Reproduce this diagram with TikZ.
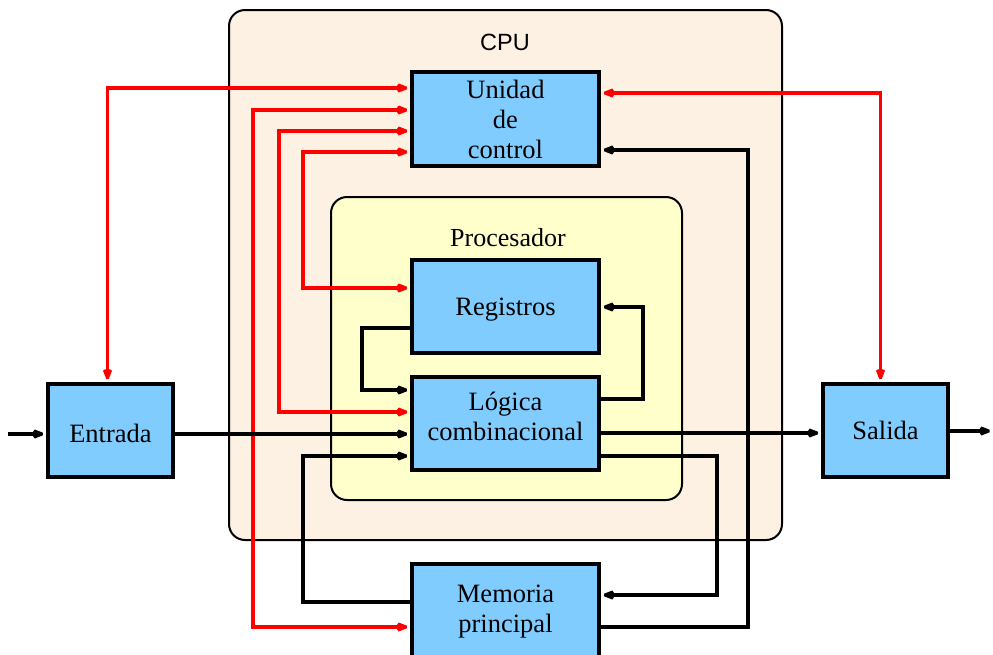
\documentclass[tikz,border=0pt]{standalone}
\usepackage{fontspec}
\setmainfont{Liberation Serif}
\newfontfamily\labelsans{Liberation Sans}
\usetikzlibrary{arrows.meta}

\definecolor{unitblue}{HTML}{80CCFF}
\definecolor{cpupeach}{HTML}{FDF1E4}
\definecolor{procyellow}{HTML}{FFFFCC}
\definecolor{ctlred}{HTML}{FF0000}

\tikzset{
  unit/.style={draw=black, line width=3.4pt, fill=unitblue, align=center,
    font=\fontsize{26.5}{30}\selectfont, inner sep=0pt},
  container/.style={draw=black, line width=2pt, rounded corners=16pt},
  head/.tip={Stealth[length=17pt,width=13pt,inset=6pt]},
  tip/.style={-head},
  both/.style={head-head},
  dataline/.style={draw=black, line width=3.8pt, miter limit=2},
  ctlline/.style={draw=ctlred, line width=3.8pt, miter limit=2},
}

\begin{document}
\begin{tikzpicture}[x=1pt, y=-1pt]
  \useasboundingbox (0,0) rectangle (993,654);

  % nested enclosures
  \node[container, fill=cpupeach, minimum width=553pt, minimum height=530pt] (cpu) at (505.5,275) {};
  \node[font=\labelsans\fontsize{23.5}{26}\selectfont] (cpulabel) at (505,42) {CPU};
  \node[container, fill=procyellow, minimum width=351pt, minimum height=303pt] (proc) at (506.5,348.5) {};
  \node[font=\fontsize{26}{28}\selectfont] (proclabel) at (508,238) {Procesador};

  % functional units
  \node[unit, minimum width=187pt, minimum height=94pt] (uc) at (505.5,119) {Unidad\\de\\control};
  \node[unit, minimum width=187pt, minimum height=93pt, text height=24pt] (reg) at (505.5,306.5) {Registros};
  \node[unit, minimum width=187pt, minimum height=93pt] (lc) at (505.5,423.5) {};
  \node[align=center, font=\fontsize{26.5}{30}\selectfont, inner sep=0pt] (lctext) at (505.5,416) {Lógica\\combinacional};
  \node[unit, minimum width=187pt, minimum height=96pt] (mem) at (505.5,612) {Memoria\\principal};
  \node[unit, minimum width=125pt, minimum height=93pt, text height=24pt] (ent) at (110.5,430.5) {Entrada};
  \node[unit, minimum width=125pt, minimum height=93pt] (sal) at (885.5,430.5) {Salida};

  \coordinate (src) at (8,434);
  \coordinate (snk) at (993,431);

  % control signals
  \draw[ctlline, both] ([xshift=-3pt]ent.north) |- (uc.west |- 0,88);
  \draw[ctlline, both] (mem.west |- 0,627) -- (253,627) -- (253,110) -- (uc.west |- 0,110);
  \draw[ctlline, both] (lc.west |- 0,412) -- (279,412) -- (279,131) -- (uc.west |- 0,131);
  \draw[ctlline, both] (reg.west |- 0,288) -- (303,288) -- (303,152) -- (uc.west |- 0,152);
  \draw[ctlline, both] ([xshift=-5pt]sal.north) |- (uc.east |- 0,93);

  % data paths
  \draw[dataline, tip] (src) -- (ent.west |- src);
  \draw[dataline, tip] (sal.east |- snk) -- (snk);
  \draw[dataline, tip] (ent.east |- 0,434) -- (lc.west |- 0,434);
  \draw[dataline, tip] (lc.east |- 0,433) -- (sal.west |- 0,433);
  \draw[dataline, tip] (reg.west |- 0,328) -- (362,328) -- (362,390) -- (lc.west |- 0,390);
  \draw[dataline, tip] (lc.east |- 0,399) -- (643,399) -- (643,307) -- (reg.east |- 0,307);
  \draw[dataline, tip] (mem.west |- 0,602) -- (303,602) -- (303,456) -- (lc.west |- 0,456);
  \draw[dataline, tip] (lc.east |- 0,456) -- (717,456) -- (717,595) -- (mem.east |- 0,595);
  \draw[dataline, tip] (mem.east |- 0,627) -- (748,627) -- (748,150) -- (uc.east |- 0,150);
\end{tikzpicture}
\end{document}
